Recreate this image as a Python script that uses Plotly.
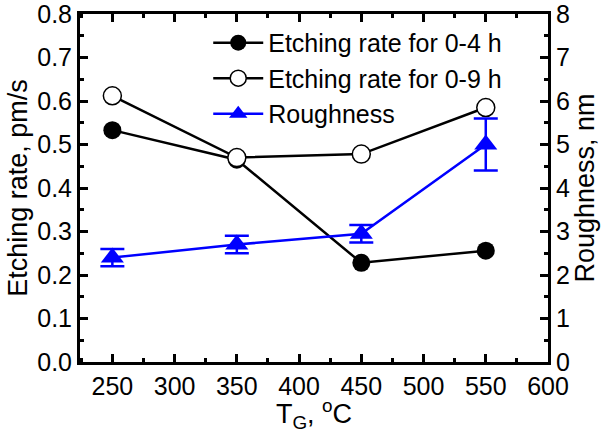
import plotly.graph_objects as go

temps = [250, 350, 450, 550]
rate_0_4 = [0.533, 0.465, 0.228, 0.256]
rate_0_9 = [0.612, 0.470, 0.478, 0.585]
roughness = [2.4, 2.7, 2.95, 5.0]
roughness_err = [0.2, 0.2, 0.2, 0.6]

FONT = "Liberation Sans, Arial, sans-serif"

fig = go.Figure()
fig.add_trace(go.Scatter(x=temps, y=rate_0_4, mode="lines+markers", name="Etching rate for 0-4 h",
                         line=dict(color="black", width=2.5),
                         marker=dict(symbol="circle", size=18, color="black")))
fig.add_trace(go.Scatter(x=temps, y=rate_0_9, mode="lines+markers", name="Etching rate for 0-9 h",
                         line=dict(color="black", width=2.5),
                         marker=dict(symbol="circle", size=18, color="white", line=dict(color="black", width=1.5))))
fig.add_trace(go.Scatter(x=temps, y=roughness, mode="lines+markers", name="Roughness", yaxis="y2",
                         line=dict(color="blue", width=2.5),
                         marker=dict(symbol="triangle-up", size=20, color="blue"),
                         error_y=dict(type="data", array=roughness_err, color="blue", thickness=2.5, width=12)))

axis_common = dict(showline=True, linecolor="black", linewidth=3, ticks="inside", ticklen=8, tickwidth=2.5,
                   tickcolor="black", showgrid=False, zeroline=False, ticklabeloverflow="allow",
                   tickfont=dict(family=FONT, size=25, color="black"))

fig.update_layout(
    width=606, height=433,
    margin=dict(l=80, r=58, t=14, b=71, autoexpand=False),
    paper_bgcolor="white", plot_bgcolor="white",
    font=dict(family=FONT, size=25, color="black"),
    xaxis=dict(range=[224, 600], dtick=50, tick0=250, mirror="ticks",
               minor=dict(dtick=25, tick0=250, ticks="inside", ticklen=4, tickwidth=2.5, tickcolor="black"),
               title=dict(text="T<sub>G</sub>, <sup>o</sup>C", font=dict(family=FONT, size=27), standoff=0),
               **axis_common),
    yaxis=dict(range=[0, 0.8], dtick=0.1, tickformat=".1f",
               minor=dict(dtick=0.05, ticks="inside", ticklen=4, tickwidth=2.5, tickcolor="black"),
               title=dict(text="Etching rate, pm/s", font=dict(family=FONT, size=27), standoff=2),
               **axis_common),
    yaxis2=dict(range=[0, 8], dtick=1, overlaying="y", side="right",
                minor=dict(dtick=0.5, ticks="inside", ticklen=4, tickwidth=2.5, tickcolor="black"),
                title=dict(text="Roughness, nm", font=dict(family=FONT, size=27), standoff=2),
                **axis_common),
    legend=dict(x=0.274, y=0.983, xanchor="left", yanchor="top", bgcolor="rgba(0,0,0,0)",
                font=dict(family=FONT, size=25), itemwidth=50, tracegroupgap=0),
    showlegend=True,
)

fig.write_html("out.html")
